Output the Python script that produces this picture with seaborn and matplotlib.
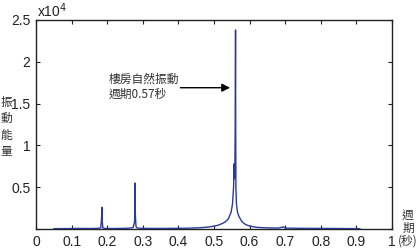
import matplotlib
matplotlib.use("Agg")
import matplotlib.pyplot as plt
import seaborn as sns
import pandas as pd

period = [0.050, 0.080, 0.100, 0.120, 0.150, 0.175, 0.182, 0.184, 0.185, 0.186, 0.188, 0.195,
          0.220, 0.250, 0.268, 0.273, 0.276, 0.277, 0.278, 0.279, 0.280, 0.281, 0.283, 0.290,
          0.320, 0.360, 0.400, 0.430, 0.460, 0.480, 0.500, 0.515, 0.530, 0.540, 0.548, 0.552,
          0.555, 0.5565, 0.557, 0.5585, 0.5595, 0.5605, 0.561, 0.5615, 0.563, 0.566, 0.570,
          0.578, 0.588, 0.600, 0.620, 0.650, 0.680, 0.695, 0.700, 0.710, 0.750, 0.800, 0.850,
          0.880, 0.910]
energy = [40, 50, 60, 70, 60, 80, 150, 1200, 2600, 900, 120, 60,
          60, 80, 120, 200, 700, 900, 5500, 1800, 900, 300, 150, 90,
          70, 70, 80, 100, 150, 220, 330, 500, 800, 1200, 2000, 3000,
          5000, 7800, 6000, 6500, 12000, 23800, 12000, 5000, 3000, 2000, 1500,
          900, 550, 350, 200, 130, 110, 250, 120, 100, 80, 70, 60,
          50, 40]

df = pd.DataFrame({"period": period, "energy": energy})

sns.set_style("ticks")
plt.rcParams["font.family"] = ["Liberation Sans", "Noto Sans CJK TC", "DejaVu Sans"]

fig = plt.figure(figsize=(4.2, 2.48), dpi=100)
ax = fig.add_axes([36/420, 1-229/248, 356/420, 209/248])

sns.lineplot(data=df, x="period", y="energy", ax=ax, color="#2b3a9a", linewidth=1.0, zorder=3)

ax.set_xlim(0, 1)
ax.set_ylim(0, 25000)
ax.set_xticks([0, 0.1, 0.2, 0.3, 0.4, 0.5, 0.6, 0.7, 0.8, 0.9, 1])
ax.set_xticklabels(["0", "0.1", "0.2", "0.3", "0.4", "0.5", "0.6", "0.7", "0.8", "0.9", "1"])
ax.set_yticks([0, 5000, 10000, 15000, 20000, 25000])
ax.set_yticklabels(["", "0.5", "1", "1.5", "2", "2.5"])
ax.tick_params(direction="in", length=3, width=0.8, labelsize=10, top=True, right=True,
               colors="#222222", pad=4)
for s in ax.spines.values():
    s.set_linewidth(1.0)
    s.set_color("#222222")
    s.set_visible(True)
ax.set_xlabel("")
ax.set_ylabel("")

fig.text(37/420, 1-11/248, r"x10$^4$", fontsize=10, ha="left", va="center", color="#222222")

cjk = ["Noto Sans CJK TC", "DejaVu Sans"]
fig.text(6/420, 1-127/248, "振\n動\n能\n量", fontsize=8.5, ha="center", va="center",
         family=cjk, linespacing=1.35, color="#333333")
fig.text(408/420, 1-228/248, "週\n期\n(秒)", fontsize=8.5, ha="center", va="center",
         family=cjk, linespacing=1.0, color="#333333")

ax.annotate("", xy=(0.553, 16900), xytext=(0.398, 16900),
            arrowprops=dict(arrowstyle="-|>", color="black", lw=1.0, mutation_scale=12))
ax.text(0.205, 17000, "樓房自然振動\n週期0.57秒", fontsize=8.5, family=cjk, ha="left",
        va="center", linespacing=1.25, color="#333333")

fig.savefig("out.png", dpi=100)
